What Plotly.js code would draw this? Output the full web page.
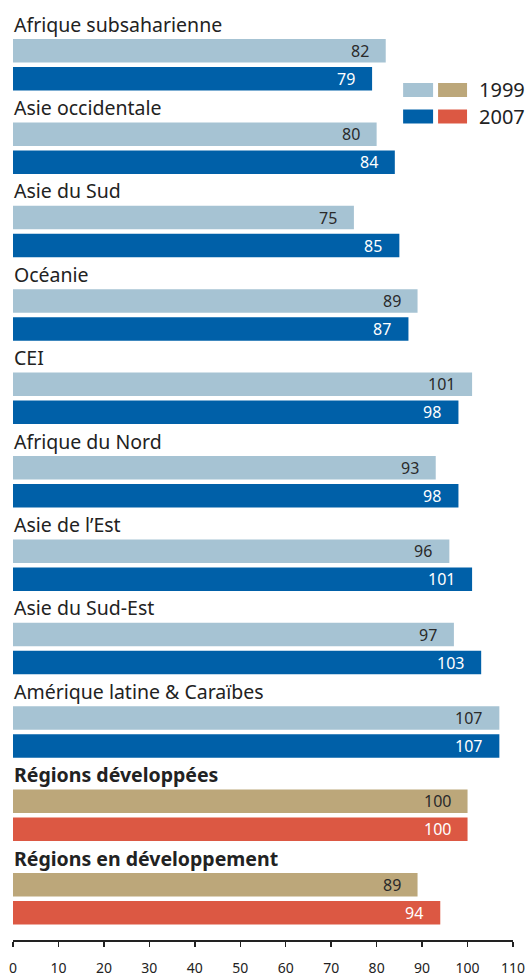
<!DOCTYPE html>
<html>
<head>
<meta charset="utf-8">
<script src="https://cdn.plot.ly/plotly-3.0.1.min.js"></script>
<style>html,body{margin:0;padding:0;background:#fff;}#chart{width:530px;height:979px;}</style>
</head>
<body>
<div id="chart"></div>
<script>
// ---- data ----
const regions = ["Afrique subsaharienne","Asie occidentale","Asie du Sud","Océanie","CEI","Afrique du Nord","Asie de l’Est","Asie du Sud-Est","Amérique latine & Caraïbes","Régions développées","Régions en développement"];
const values1999 = [82,80,75,89,101,93,96,97,107,100,89];
const values2007 = [79,84,85,87,98,98,101,103,107,100,94];
const aggregate = [false,false,false,false,false,false,false,false,false,true,true];
const xTicks = [0,10,20,30,40,50,60,70,80,90,100,110];
const legendYears = ["1999","2007"];

// ---- styling / layout ----
const W = 530, H = 979;
const ML = 12.5, MR = 17, MT = 0, MB = 39;
const plotH = H - MT - MB;
const groupPitch = 83.4, firstTop = 39, barH = 23.5, barPitch = 28;
const col = {light:"#a6c3d3", dark:"#0060a8", tan:"#bca77a", red:"#dc5843"};
const FONT = "Noto Sans, Open Sans, sans-serif";

const idx = regions.map((_, i) => i);
const y1 = idx.map(i => firstTop + i * groupPitch + barH / 2);
const y2 = idx.map(i => firstTop + i * groupPitch + barPitch + barH / 2);

const traces = [
  {type:"bar", orientation:"h", x: values1999, y: y1, width: barH,
   marker:{color: aggregate.map(a => a ? col.tan : col.light), line:{width:0}},
   hoverinfo:"x", showlegend:false},
  {type:"bar", orientation:"h", x: values2007, y: y2, width: barH,
   marker:{color: aggregate.map(a => a ? col.red : col.dark), line:{width:0}},
   hoverinfo:"x", showlegend:false}
];

const annotations = [];
idx.forEach(i => {
  annotations.push({xref:"paper", yref:"y", x:0, y: firstTop + i*groupPitch - 15,
    text: aggregate[i] ? "<b>"+regions[i]+"</b>" : regions[i],
    showarrow:false, xanchor:"left", yanchor:"middle", xshift:-1,
    font:{family:FONT, size:19.5, color:"#222"}});
  annotations.push({xref:"x", yref:"y", x: values1999[i], y: y1[i], text: String(values1999[i]),
    showarrow:false, xanchor:"right", yanchor:"middle", xshift:-15,
    font:{family:FONT, size:16, color:"#2a2a2a"}});
  annotations.push({xref:"x", yref:"y", x: values2007[i], y: y2[i], text: String(values2007[i]),
    showarrow:false, xanchor:"right", yanchor:"middle", xshift:-15,
    font:{family:FONT, size:16, color:"#ffffff"}});
});

// legend (pixel helpers -> paper coords)
const pw = W - ML - MR;
const px = v => (v - ML) / pw;
const py = v => 1 - (v - MT) / plotH;
const shapes = [];
const legRows = [[col.light, col.tan, 90], [col.dark, col.red, 116.5]];
legRows.forEach((r, k) => {
  const yc = r[2];
  shapes.push({type:"rect", xref:"paper", yref:"paper", x0:px(403), x1:px(433), y0:py(yc-7), y1:py(yc+7), fillcolor:r[0], line:{width:0}});
  shapes.push({type:"rect", xref:"paper", yref:"paper", x0:px(438), x1:px(467), y0:py(yc-7), y1:py(yc+7), fillcolor:r[1], line:{width:0}});
  annotations.push({xref:"paper", yref:"paper", x:px(477), y:py(yc), text: legendYears[k], showarrow:false,
    xanchor:"left", yanchor:"middle", font:{family:FONT, size:20, color:"#222"}});
});

const layout = {
  width: W, height: H,
  margin:{l:ML, r:MR, t:MT, b:MB, pad:0},
  paper_bgcolor:"#fff", plot_bgcolor:"#fff",
  barmode:"overlay",
  xaxis:{range:[0,110], tickvals:xTicks, ticktext:xTicks.map(String), ticks:"outside", ticklen:5, tickwidth:1.5,
    tickcolor:"#222", showline:true, linecolor:"#222", linewidth:2, showgrid:false, zeroline:false,
    ticklabelstandoff:9, tickfont:{family:FONT, size:14, color:"#222"}, fixedrange:true},
  yaxis:{range:[plotH, 0], visible:false, showgrid:false, zeroline:false, fixedrange:true},
  annotations, shapes,
  showlegend:false
};
Plotly.newPlot("chart", traces, layout, {displayModeBar:false, staticPlot:true});
</script>
</body>
</html>
